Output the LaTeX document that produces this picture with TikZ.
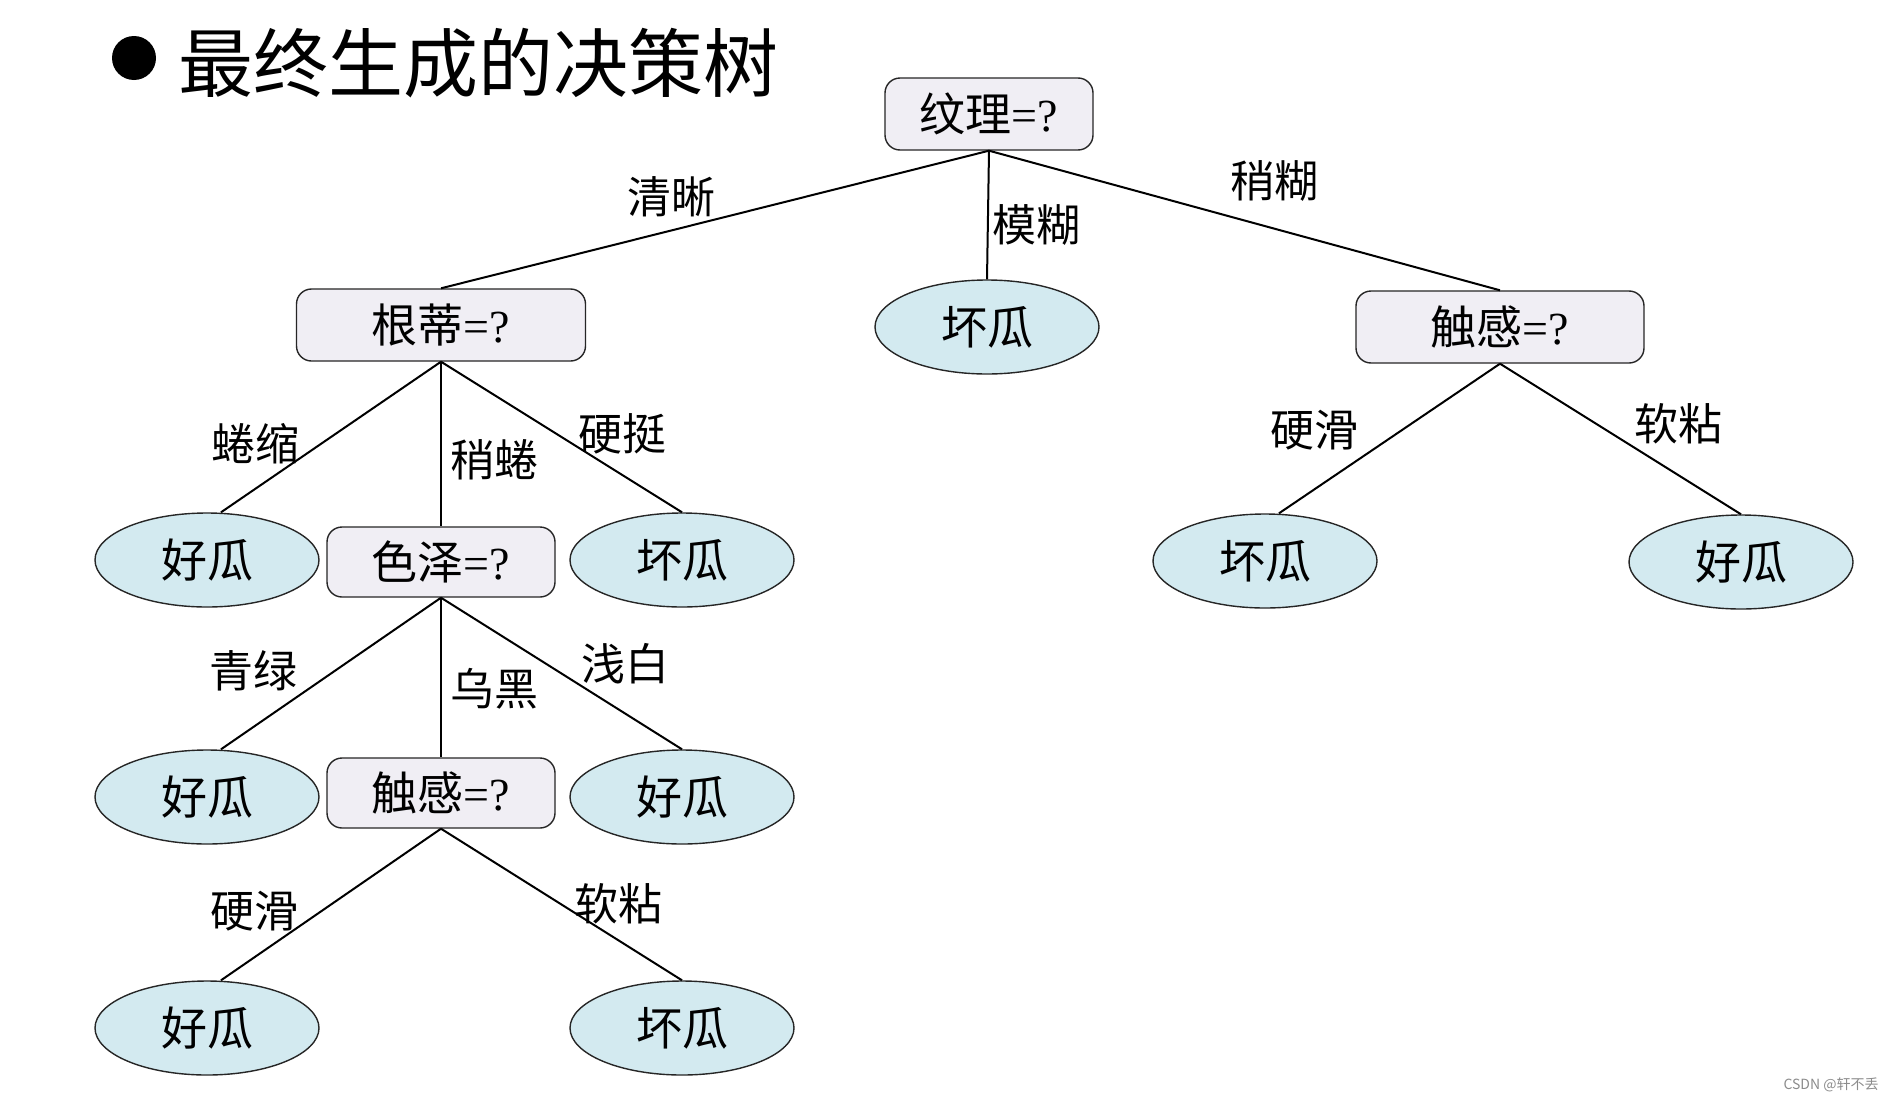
\documentclass[tikz,border=0pt]{standalone}
\usepackage{fontspec}
\setmainfont{Liberation Serif}
\newfontfamily\cjk{Noto Sans CJK SC}
\usetikzlibrary{shapes.geometric}
\definecolor{boxfill}{RGB}{240,238,244}
\definecolor{leaffill}{RGB}{211,234,240}
\begin{document}
\begin{tikzpicture}[x=0.5pt,y=-0.5pt,
  testbox/.style={draw=black!85,line width=0.7pt,fill=boxfill,rounded corners=7.5pt,inner sep=0pt,font=\fontsize{23}{25}\selectfont},
  leaf/.style={ellipse,draw=black!85,line width=0.7pt,fill=leaffill,minimum width=112pt,minimum height=47pt,inner sep=0pt,font=\fontsize{23}{25}\cjk},
  lbl/.style={inner sep=0pt,font=\fontsize{22}{24}\cjk},
  edge/.style={line width=1pt,black}]
\useasboundingbox (0,0) rectangle (1895,1103);
\fill[white] (0,0) rectangle (1895,1103);
% title
\fill (134,58) circle (11pt);
\node[inner sep=0pt,anchor=west,font=\fontsize{37.5}{40}\cjk] (title) at (178,63) {最终生成的决策树};
% nodes
\node[testbox,minimum width=104pt,minimum height=36pt] (root) at (989,114) {{\cjk 纹理}=?};
\node[testbox,minimum width=144.5pt,minimum height=36pt] (gd) at (441,325) {{\cjk 根蒂}=?};
\node[leaf] (m1) at (987,327) {坏瓜};
\node[testbox,minimum width=144pt,minimum height=36pt] (cg1) at (1500,327) {{\cjk 触感}=?};
\node[leaf] (l1) at (207,560) {好瓜};
\node[testbox,minimum width=114pt,minimum height=35pt] (sz) at (441,562) {{\cjk 色泽}=?};
\node[leaf] (l2) at (682,560) {坏瓜};
\node[leaf] (r1) at (1265,561) {坏瓜};
\node[leaf] (r2) at (1741,562) {好瓜};
\node[leaf] (l3) at (207,797) {好瓜};
\node[testbox,minimum width=114pt,minimum height=35pt] (cg2) at (441,793) {{\cjk 触感}=?};
\node[leaf] (l4) at (682,797) {好瓜};
\node[leaf] (l5) at (207,1028) {好瓜};
\node[leaf] (l6) at (682,1028) {坏瓜};
% edges
\draw[edge] (root.south) -- (gd.north);
\draw[edge] (root.south) -- (m1.north);
\draw[edge] (root.south) -- (cg1.north);
\draw[edge] (gd.south) -- ([xshift=7pt]l1.north);
\draw[edge] (gd.south) -- (sz.north);
\draw[edge] (gd.south) -- (l2.north);
\draw[edge] (cg1.south) -- ([xshift=7pt]r1.north);
\draw[edge] (cg1.south) -- (r2.north);
\draw[edge] (sz.south) -- ([xshift=7pt]l3.north);
\draw[edge] (sz.south) -- (cg2.north);
\draw[edge] (sz.south) -- (l4.north);
\draw[edge] (cg2.south) -- ([xshift=7pt]l5.north);
\draw[edge] (cg2.south) -- (l6.north);
% labels
\node[lbl] (e1) at (671,197) {清晰};
\node[lbl] (e2) at (1036,225) {模糊};
\node[lbl] (e3) at (1274,181) {稍糊};
\node[lbl] (e4) at (255,444) {蜷缩};
\node[lbl] (e5) at (494,460) {稍蜷};
\node[lbl] (e6) at (622,434) {硬挺};
\node[lbl] (e7) at (1314,430) {硬滑};
\node[lbl] (e8) at (1678,424) {软粘};
\node[lbl] (e9) at (253,671) {青绿};
\node[lbl] (e10) at (494,689) {乌黑};
\node[lbl] (e11) at (625,664) {浅白};
\node[lbl] (e12) at (254,911) {硬滑};
\node[lbl] (e13) at (618,904) {软粘};
% watermark
\node[inner sep=0pt,text=black!45,font=\fontsize{7}{8}\cjk] (wm) at (1831,1085) {CSDN @轩不丢};
\end{tikzpicture}
\end{document}
